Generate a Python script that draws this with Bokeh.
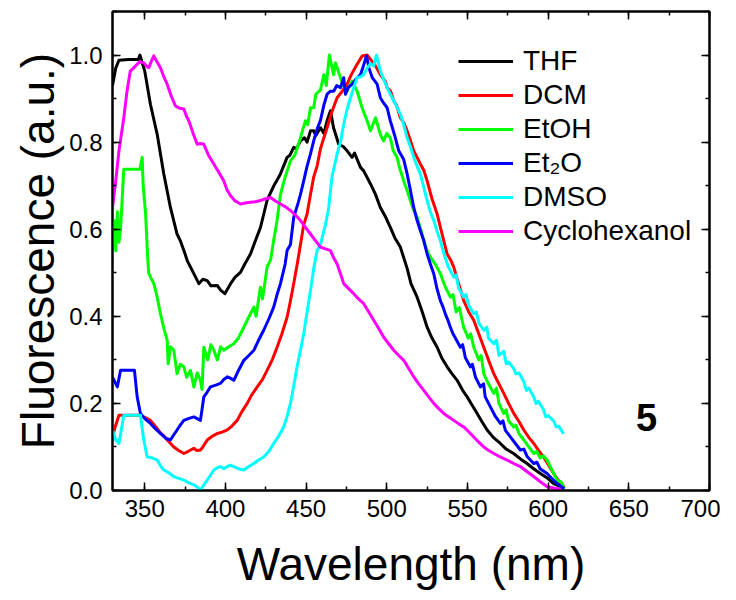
from bokeh.plotting import figure
from bokeh.models import (Range1d, LinearAxis, SingleIntervalTicker, PrintfTickFormatter,
                          Legend, LegendItem, Label, CustomJSTickFormatter)
from bokeh.embed import file_html
from bokeh.resources import INLINE

# ---------------- data ----------------
thf_x = [330, 332, 334, 340, 346, 347, 350, 353.5, 357.7, 361.8, 365.9, 370, 372, 375, 376.3, 380.4,
         383.5, 386, 388.7, 391, 394.9, 397, 399.6, 403.2, 406, 409.3, 412, 415.5, 418.6, 421.7, 425.8,
         430, 434.1, 438.2, 440, 442.3, 444, 446.5, 449, 450.6, 452.7, 454.7, 456, 458.9, 461, 463, 465.1,
         467, 470.2, 473, 475.4, 478.5, 480, 483.7, 485.7, 489.9, 493, 496, 499, 502.2, 505, 508.4, 512.6,
         515, 518.8, 522, 525, 528, 531.2, 534, 537.4, 540, 543.6, 547, 549.8, 553, 556, 559, 562.2, 566,
         570.4, 574, 578.6, 583, 586.9, 591, 595.2, 599, 603.4, 607, 610]
thf_y = [0.93, 0.97, 0.988, 0.99, 0.99, 1.0, 0.963, 0.887, 0.818, 0.727, 0.650, 0.589, 0.574, 0.543,
         0.528, 0.498, 0.475, 0.485, 0.482, 0.47, 0.471, 0.46, 0.452, 0.475, 0.49, 0.501, 0.52, 0.543,
         0.574, 0.604, 0.666, 0.70, 0.727, 0.765, 0.77, 0.788, 0.785, 0.803, 0.81, 0.80, 0.826, 0.826,
         0.815, 0.833, 0.82, 0.849, 0.872, 0.833, 0.795, 0.79, 0.78, 0.765, 0.775, 0.742, 0.734, 0.704,
         0.68, 0.65, 0.63, 0.604, 0.58, 0.559, 0.51, 0.475, 0.444, 0.41, 0.375, 0.35, 0.329, 0.305,
         0.284, 0.27, 0.253, 0.23, 0.215, 0.195, 0.177, 0.158, 0.139, 0.122, 0.108, 0.095, 0.085, 0.072,
         0.062, 0.05, 0.039, 0.03, 0.016, 0.01, 0.005]

dcm_x = [330, 332, 334, 340, 347, 350, 353.5, 356, 359.7, 362, 363.9, 366, 368, 371, 374.2, 377, 380.4,
         382, 384.5, 386, 388.7, 392, 394.9, 398, 401.1, 404, 407.3, 410, 413.5, 416, 419.7, 423, 425.8,
         429, 432, 435, 438.2, 440, 442.3, 444.5, 446.5, 448.5, 450.6, 452.7, 454.7, 456.8, 458.9, 461,
         463, 466, 469.2, 472, 475.4, 478, 481.6, 484.7, 487.8, 489.9, 493, 496, 499, 500.2, 502.2, 504.3,
         506, 508.4, 510.5, 512.6, 515, 516.7, 518.8, 520.8, 523, 525, 528, 531.2, 533.5, 535.3, 537.4,
         539.5, 541.5, 544.5, 547.7, 550.8, 553.9, 557, 560.1, 563, 566.3, 569.5, 572.5, 575.5, 578.7,
         582, 584.9, 588, 591.1, 594, 597.2, 600, 603.4, 606, 610]
dcm_y = [0.123, 0.15, 0.173, 0.173, 0.173, 0.168, 0.161, 0.15, 0.132, 0.125, 0.116, 0.108, 0.10, 0.092,
         0.085, 0.09, 0.097, 0.092, 0.093, 0.1, 0.116, 0.125, 0.131, 0.134, 0.139, 0.148, 0.161, 0.18,
         0.20, 0.218, 0.238, 0.255, 0.276, 0.30, 0.329, 0.36, 0.398, 0.43, 0.475, 0.52, 0.565, 0.61, 0.635,
         0.68, 0.72, 0.745, 0.785, 0.81, 0.833, 0.87, 0.902, 0.915, 0.933, 0.955, 0.979, 0.998, 1.0, 0.99,
         0.975, 0.955, 0.94, 0.925, 0.918, 0.895, 0.885, 0.856, 0.845, 0.826, 0.80, 0.78, 0.765, 0.75,
         0.735, 0.711, 0.67, 0.635, 0.60, 0.574, 0.543, 0.53, 0.513, 0.475, 0.436, 0.41, 0.391, 0.36,
         0.329, 0.30, 0.268, 0.245, 0.223, 0.20, 0.177, 0.158, 0.139, 0.122, 0.108, 0.092, 0.077, 0.06,
         0.039, 0.025, 0.008]

etoh_x = [330, 331, 332, 333, 334, 335, 337, 345, 347, 348.4, 349, 350.5, 351.9, 352.5, 355.6, 357.7,
          359.7, 362, 363.9, 364.5, 366, 368, 370, 372, 374.2, 376, 378.3, 380.4, 382.5, 384.5, 385.5,
          386.6, 389, 391, 392.8, 395, 397, 399, 402, 405.2, 408, 411.4, 414, 417.6, 419, 421.7, 423,
          425.8, 428, 429.9, 432, 434.1, 437, 440.3, 443, 446.5, 448, 449.6, 451, 452.7, 454.7, 456, 458.9,
          461, 462.5, 464.4, 467, 468.2, 471.3, 473, 475.4, 478.5, 481.6, 484.7, 487.8, 489.9, 493, 496,
          498, 500, 502.2, 504, 506.4, 508, 510.5, 512.5, 514.6, 516.5, 518.8, 521, 522.9, 525, 527, 530,
          533.2, 536, 539.4, 541, 543, 545, 547.6, 550.5, 552, 553.9, 557, 558.5, 560.1, 563, 566.3, 568,
          569.5, 572.5, 574, 575.5, 578.7, 580, 582, 584.9, 588, 591.1, 593, 595, 597, 599.3, 602, 605.5,
          608, 610]
etoh_y = [0.58, 0.62, 0.55, 0.64, 0.57, 0.60, 0.738, 0.738, 0.738, 0.765, 0.70, 0.635, 0.528, 0.498,
          0.475, 0.444, 0.406, 0.37, 0.345, 0.291, 0.33, 0.322, 0.268, 0.29, 0.284, 0.26, 0.276, 0.238,
          0.27, 0.253, 0.232, 0.329, 0.30, 0.335, 0.322, 0.30, 0.33, 0.322, 0.33, 0.337, 0.35, 0.375,
          0.395, 0.421, 0.40, 0.467, 0.44, 0.513, 0.53, 0.575, 0.62, 0.68, 0.72, 0.757, 0.77, 0.81, 0.83,
          0.849, 0.84, 0.879, 0.879, 0.91, 0.92, 0.955, 0.93, 1.0, 0.955, 0.982, 0.948, 0.93, 0.917, 0.94,
          0.917, 0.879, 0.849, 0.826, 0.856, 0.818, 0.803, 0.82, 0.81, 0.78, 0.765, 0.74, 0.711, 0.69,
          0.666, 0.645, 0.627, 0.60, 0.574, 0.55, 0.536, 0.52, 0.498, 0.47, 0.444, 0.45, 0.41, 0.42,
          0.375, 0.35, 0.36, 0.329, 0.30, 0.31, 0.268, 0.245, 0.223, 0.235, 0.20, 0.177, 0.185, 0.16,
          0.146, 0.15, 0.13, 0.116, 0.10, 0.085, 0.09, 0.075, 0.08, 0.07, 0.05, 0.024, 0.02, 0.005]

et2o_x = [330, 333, 335, 343.6, 345.3, 347.3, 350, 353.5, 356.5, 359.7, 363, 365.9, 368, 370, 372,
          374.2, 377, 380.4, 382.5, 384.5, 386.6, 388.5, 390.7, 394, 396.9, 399, 401.1, 403, 405.2, 408,
          411.4, 414.5, 417.6, 420.5, 423.7, 427, 429.9, 432, 434.1, 437, 438.2, 440.3, 442.3, 445, 446.5,
          448.5, 450.6, 452.7, 454.7, 456.8, 458.9, 461, 463, 465.1, 467.1, 469, 471.3, 473.3, 474.4, 476,
          478.5, 481, 483.7, 485.5, 487.4, 489, 491, 494, 496, 498, 500.2, 502.2, 505.3, 507.4, 510.5,
          512.6, 514.6, 516.7, 518.8, 520.8, 522.9, 525, 527, 529.1, 531, 533.2, 535, 536.3, 538, 539.4,
          541, 542.5, 545.6, 547, 548.7, 551.8, 553, 555, 558, 560, 561, 564.2, 567.3, 570.4, 572, 573.5,
          576.6, 579.7, 582.8, 585, 587, 591, 593, 595, 599.3, 602.5, 605.5, 610]
et2o_y = [0.26, 0.238, 0.276, 0.276, 0.215, 0.177, 0.165, 0.154, 0.142, 0.131, 0.12, 0.116, 0.128,
          0.139, 0.15, 0.161, 0.165, 0.169, 0.165, 0.161, 0.215, 0.225, 0.238, 0.242, 0.246, 0.255, 0.261,
          0.258, 0.253, 0.275, 0.299, 0.31, 0.322, 0.345, 0.368, 0.395, 0.421, 0.45, 0.475, 0.52, 0.551,
          0.565, 0.627, 0.66, 0.68, 0.711, 0.745, 0.773, 0.803, 0.83, 0.85, 0.885, 0.91, 0.917, 0.917,
          0.93, 0.925, 0.948, 0.91, 0.925, 0.933, 0.945, 0.955, 0.975, 0.998, 0.97, 0.948, 0.933, 0.902,
          0.89, 0.879, 0.849, 0.81, 0.78, 0.76, 0.727, 0.69, 0.65, 0.62, 0.597, 0.574, 0.543, 0.52, 0.498,
          0.465, 0.436, 0.42, 0.405, 0.39, 0.375, 0.36, 0.35, 0.329, 0.335, 0.305, 0.284, 0.29, 0.26,
          0.238, 0.245, 0.215, 0.192, 0.17, 0.154, 0.16, 0.138, 0.123, 0.108, 0.093, 0.095, 0.078, 0.062,
          0.065, 0.05, 0.039, 0.027, 0.016, 0.004]

dmso_x = [330, 332, 334, 335.5, 337, 347.3, 349.4, 351.5, 354.5, 357.7, 360, 361.8, 365, 368, 371,
          374.2, 377, 380.4, 382.5, 384.5, 386.5, 388.7, 390.7, 392.8, 394.9, 396.9, 399, 401.1, 403,
          405.2, 408, 411.4, 414.5, 417.6, 420.5, 423.7, 427, 429.9, 433, 436.1, 438.2, 440.3, 442.3,
          444.4, 446.5, 448.5, 450.6, 452.7, 454.7, 456.8, 458.9, 462, 464, 466, 469.2, 471.3, 473.3, 475,
          477.5, 479.5, 481.6, 483.7, 485.7, 487.8, 489.9, 491.9, 493.6, 496, 498, 500.2, 502.2, 504.3,
          506.4, 508.4, 510.5, 512.6, 514.6, 516.7, 518.8, 520.8, 523, 525, 527, 529.1, 531.2, 533.2,
          535.3, 538, 541.5, 543, 544.5, 547.7, 549, 550.8, 553.9, 555.5, 557, 560.1, 562, 563, 566.3,
          568, 569.5, 572.5, 574, 575.5, 578.7, 580, 582, 584.9, 586.5, 588, 591.1, 592.5, 594, 597.2,
          598.5, 600, 603.4, 605, 606.5, 609.6]
dmso_y = [0.139, 0.116, 0.108, 0.14, 0.173, 0.173, 0.116, 0.077, 0.075, 0.07, 0.055, 0.047, 0.04,
          0.032, 0.028, 0.024, 0.018, 0.013, 0.008, 0.001, 0.012, 0.024, 0.035, 0.047, 0.052, 0.055, 0.05,
          0.055, 0.058, 0.055, 0.05, 0.047, 0.055, 0.062, 0.07, 0.077, 0.09, 0.108, 0.125, 0.146, 0.17,
          0.2, 0.24, 0.284, 0.322, 0.36, 0.41, 0.459, 0.51, 0.551, 0.565, 0.61, 0.65, 0.72, 0.773, 0.80,
          0.841, 0.87, 0.902, 0.925, 0.948, 0.95, 0.955, 0.97, 0.98, 0.975, 1.0, 0.963, 0.945, 0.925,
          0.91, 0.895, 0.88, 0.864, 0.84, 0.81, 0.79, 0.765, 0.745, 0.727, 0.695, 0.666, 0.64, 0.62, 0.595,
          0.574, 0.545, 0.515, 0.49, 0.495, 0.465, 0.444, 0.45, 0.425, 0.406, 0.41, 0.385, 0.368, 0.375,
          0.35, 0.337, 0.345, 0.31, 0.32, 0.291, 0.295, 0.28, 0.268, 0.27, 0.25, 0.23, 0.235, 0.215, 0.2,
          0.205, 0.185, 0.169, 0.172, 0.16, 0.146, 0.148, 0.13, 0.118]

cyc_x = [330, 332, 334, 337, 339, 341, 343, 345.3, 347, 349.4, 351, 352.5, 354, 355.6, 357.5, 359.7,
         361.8, 363.9, 366.5, 369, 371.5, 374.2, 375.8, 377.3, 380, 382.5, 384.5, 386.6, 389.5, 392.8, 396,
         399, 401, 403.2, 406, 409.3, 412, 415.5, 418.5, 421.7, 425, 427.9, 431, 434.1, 437, 440.3, 443.5,
         446.5, 449.5, 452.7, 455.8, 458.9, 462, 465.1, 467, 469.2, 471.3, 473.3, 476.5, 479.5, 482.5,
         485.7, 488.8, 491.9, 495, 498.1, 501.2, 504.3, 507.4, 510.5, 513.6, 516.7, 519.8, 522.9, 526,
         529.1, 532.2, 535.3, 538.4, 541.5, 544.6, 547.7, 550.8, 553.9, 557, 560.1, 563.2, 566.3, 570.4,
         574.5, 578.6, 582.8, 587, 591.1, 595.2, 599.3, 604, 608]
cyc_y = [0.65, 0.711, 0.78, 0.856, 0.917, 0.963, 0.97, 0.979, 0.985, 0.982, 0.975, 0.971, 0.985, 0.998,
         0.985, 0.971, 0.95, 0.933, 0.905, 0.883, 0.878, 0.876, 0.86, 0.849, 0.82, 0.795, 0.797, 0.795,
         0.77, 0.75, 0.73, 0.711, 0.69, 0.677, 0.665, 0.658, 0.66, 0.662, 0.663, 0.666, 0.67, 0.673, 0.665,
         0.658, 0.652, 0.643, 0.632, 0.62, 0.605, 0.589, 0.574, 0.559, 0.555, 0.551, 0.535, 0.52, 0.498,
         0.475, 0.463, 0.452, 0.44, 0.429, 0.41, 0.391, 0.372, 0.352, 0.337, 0.322, 0.31, 0.299, 0.28,
         0.261, 0.245, 0.23, 0.215, 0.2, 0.188, 0.177, 0.169, 0.161, 0.153, 0.146, 0.135, 0.123, 0.111,
         0.1, 0.092, 0.085, 0.077, 0.07, 0.062, 0.055, 0.043, 0.032, 0.02, 0.009, 0.005, 0.003]

series_names = ["THF", "DCM", "EtOH", "Et\u2082O", "DMSO", "Cyclohexanol"]
series_x = [thf_x, dcm_x, etoh_x, et2o_x, dmso_x, cyc_x]
series_y = [thf_y, dcm_y, etoh_y, et2o_y, dmso_y, cyc_y]
series_colors = ["#000000", "#FF0000", "#00FF00", "#0000FF", "#00FFFF", "#FF00FF"]

x_label = "Wavelength (nm)"
y_label = "Fluorescence (a.u.)"
panel_label = "5"

FONT = "Liberation Sans"

p = figure(width=720, height=592, output_backend="svg", toolbar_location=None,
           x_range=Range1d(330, 700), y_range=Range1d(0, 1.1),
           min_border_left=112, min_border_right=11, min_border_top=11, min_border_bottom=102)
p.xgrid.visible = False
p.ygrid.visible = False
p.outline_line_color = "black"
p.outline_line_width = 2
p.background_fill_color = "white"
p.border_fill_color = "white"

xt = SingleIntervalTicker(interval=50, num_minor_ticks=2)
yt = SingleIntervalTicker(interval=0.2, num_minor_ticks=2)


def style_axis(ax, labels=True):
    ax.axis_line_color = "black"
    ax.axis_line_width = 2
    ax.major_tick_line_color = "black"
    ax.minor_tick_line_color = "black"
    ax.major_tick_line_width = 1.5
    ax.minor_tick_line_width = 1.5
    ax.major_tick_in = 8
    ax.major_tick_out = 0
    ax.minor_tick_in = 4
    ax.minor_tick_out = 0
    if labels:
        ax.major_label_text_font = FONT
        ax.major_label_text_font_size = "24px"
        ax.major_label_text_color = "black"
        ax.axis_label_text_font = FONT
        ax.axis_label_text_font_size = "46px"
        ax.axis_label_text_font_style = "normal"
        ax.axis_label_text_color = "black"
    else:
        ax.formatter = CustomJSTickFormatter(code="return '';")
        ax.major_label_standoff = 0
        ax.axis_label = None


p.xaxis.ticker = xt
p.yaxis.ticker = yt
p.yaxis.formatter = PrintfTickFormatter(format="%.1f")
p.xaxis.axis_label = x_label
p.yaxis.axis_label = y_label
style_axis(p.xaxis[0])
style_axis(p.yaxis[0])
p.xaxis.major_label_standoff = 9
p.xaxis.axis_label_standoff = 18
p.yaxis.major_label_standoff = 10
p.yaxis.axis_label_standoff = 2

top_ax = LinearAxis(ticker=SingleIntervalTicker(interval=50, num_minor_ticks=2))
right_ax = LinearAxis(ticker=SingleIntervalTicker(interval=0.2, num_minor_ticks=2))
style_axis(top_ax, labels=False)
style_axis(right_ax, labels=False)
p.add_layout(top_ax, "above")
p.add_layout(right_ax, "right")

items = []
for name, xs, ys, c in zip(series_names, series_x, series_y, series_colors):
    r = p.line(xs, ys, line_color=c, line_width=3, line_join="round")
    items.append(LegendItem(label=name, renderers=[r]))

legend = Legend(items=items, location=(346, 243), padding=0, margin=0, spacing=2,
                glyph_width=55, glyph_height=30, label_height=30, label_standoff=10,
                label_text_font=FONT, label_text_font_size="28px", label_text_color="black",
                border_line_color=None, background_fill_alpha=0)
p.add_layout(legend)

p.add_layout(Label(x=661, y=0.168, text=panel_label, text_font=FONT, text_font_size="38px",
                   text_font_style="bold", text_align="center", text_baseline="middle",
                   text_color="black"))

open("out.html", "w").write(file_html(p, INLINE))
